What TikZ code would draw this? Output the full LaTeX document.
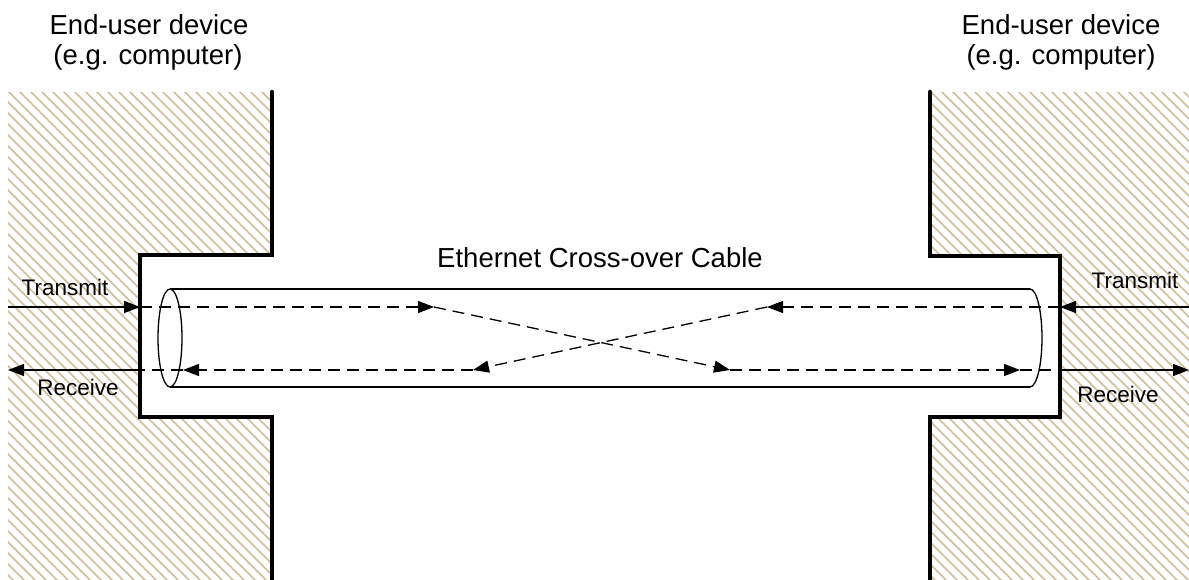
\documentclass[tikz,border=0pt]{standalone}
\usepackage{fontspec}
\setmainfont{Liberation Sans}
\usetikzlibrary{arrows.meta,shapes.geometric}
\definecolor{hatchc}{RGB}{206,190,156}
\tikzset{
  big/.style={font=\fontsize{27.5}{31}\selectfont, anchor=base, inner sep=0pt},
  small/.style={font=\fontsize{22.5}{26}\selectfont, anchor=base, inner sep=0pt},
  wall/.style={line width=4.5pt, line cap=round, line join=miter},
  thin/.style={line width=1.3pt},
  sig/.style={line width=1.3pt, -{Triangle[length=16pt,width=12pt]}},
  dsig/.style={line width=1.3pt, dash pattern=on 12pt off 7pt, -{Triangle[length=16pt,width=12pt]}},
  dline/.style={line width=1.3pt, dash pattern=on 12pt off 7pt},
  hatch/.style={draw=hatchc, line width=1.7pt}
}
\begin{document}
\begin{tikzpicture}[x=1pt,y=-1pt]
\useasboundingbox (0,0) rectangle (1189,580);
% hatching
\begin{scope}
  \clip (8,92) -- (272,92) -- (272,255) -- (140,255) -- (140,417) -- (272,417) -- (272,580) -- (8,580) -- cycle;
  \foreach \d in {-600,-589,...,400} { \draw[hatch] (\d,0) -- (\d+700,700); }
\end{scope}
\begin{scope}
  \clip (930,92) -- (1189,92) -- (1189,580) -- (930,580) -- (930,417) -- (1060,417) -- (1060,256) -- (930,256) -- cycle;
  \foreach \d in {300,311,...,1250} { \draw[hatch] (\d,0) -- (\d+700,700); }
\end{scope}
% walls
\draw[wall] (272,92) -- (272,255) -- (140,255) -- (140,417) -- (272,417) -- (272,580);
\draw[wall] (930,92) -- (930,256) -- (1060,256) -- (1060,417) -- (930,417) -- (930,580);
% cable
\draw[thin] (170,289) -- (1030,289);
\draw[thin] (170,387) -- (1030,387);
\draw[thin] (1030,289) arc[start angle=-90, end angle=90, x radius=12, y radius=49];
\node[draw, thin, ellipse, minimum width=24pt, minimum height=98pt, inner sep=0pt] (capL) at (170,338) {};
% coordinates
\coordinate (lt0) at (8,307);   \coordinate (lt1) at (140,307);
\coordinate (lt2) at (434,307); \coordinate (lt3) at (730,370);
\coordinate (lt4) at (1020,370);\coordinate (lt5) at (1060,370);
\coordinate (lt6) at (1189,370);
\coordinate (rt0) at (1189,307);\coordinate (rt1) at (1060,307);
\coordinate (rt2) at (767,307); \coordinate (rt3) at (473,370);
\coordinate (rt4) at (183,370); \coordinate (rt5) at (140,370);
\coordinate (rt6) at (8,370);
% left transmit -> right receive
\draw[sig] (lt0) -- (lt1);
\draw[dsig] (lt1) -- (lt2);
\draw[dsig] (lt2) -- (lt3);
\draw[dsig] (lt3) -- (lt4);
\draw[dline] (lt4) -- (lt5);
\draw[sig] (lt5) -- (lt6);
% right transmit -> left receive
\draw[sig] (rt0) -- (rt1);
\draw[dsig] (rt1) -- (rt2);
\draw[dsig] (rt2) -- (rt3);
\draw[dsig] (rt3) -- (rt4);
\draw[dline] (rt4) -- (rt5);
\draw[sig] (rt5) -- (rt6);
% labels
\node[big] (devL1) at (149,35) {End-user device};
\node[big] (devL2) at (148,65) {(e.g. computer)};
\node[big] (devR1) at (1061,35) {End-user device};
\node[big] (devR2) at (1061,65) {(e.g. computer)};
\node[big] (title) at (600,268) {Ethernet Cross-over Cable};
\node[small] (txL) at (65,295) {Transmit};
\node[small] (rxL) at (78,395) {Receive};
\node[small] (txR) at (1135,288) {Transmit};
\node[small] (rxR) at (1118,402) {Receive};
\end{tikzpicture}
\end{document}
